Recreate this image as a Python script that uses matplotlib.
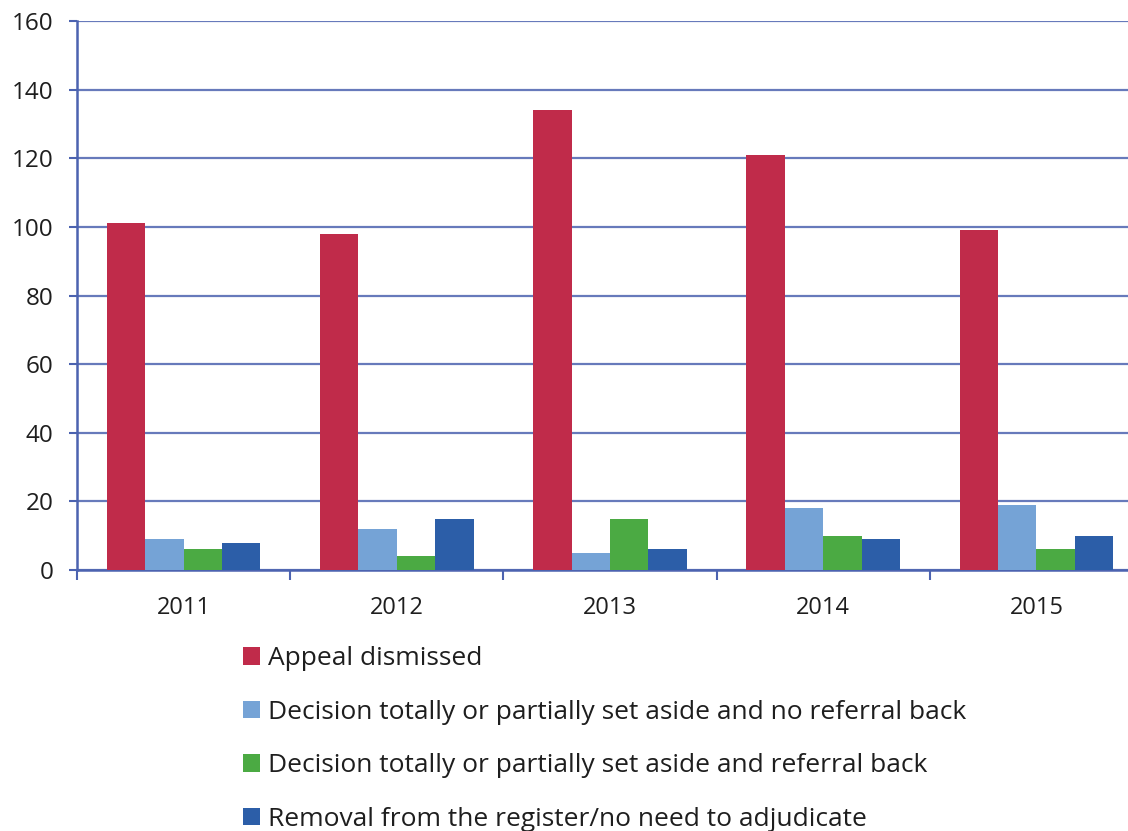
import numpy as np
import matplotlib.pyplot as plt
from matplotlib.patches import Patch

plt.rcParams['font.family'] = ['Open Sans', 'DejaVu Sans']

years = ['2011', '2012', '2013', '2014', '2015']
dismissed = [101, 98, 134, 121, 99]
set_aside_no_referral = [9, 12, 5, 18, 19]
set_aside_referral = [6, 4, 15, 10, 6]
removal = [8, 15, 6, 9, 10]

labels = ['Appeal dismissed',
          'Decision totally or partially set aside and no referral back',
          'Decision totally or partially set aside and referral back',
          'Removal from the register/no need to adjudicate']
colors = ['#C02B4A', '#75A3D6', '#4BAA43', '#2C5EA8']
series = [dismissed, set_aside_no_referral, set_aside_referral, removal]

grid_col = '#4C63B0'
text_col = '#1E1E1E'

fig = plt.figure(figsize=(11.28, 8.31), dpi=100)
ax = fig.add_axes([0.0683, 0.3141, 0.945, 0.6606])

x = np.arange(len(years))
w = 0.18
for i, (vals, c) in enumerate(zip(series, colors)):
    ax.bar(x + (i - 1.5) * w, vals, width=w, color=c, zorder=3)

ax.set_xlim(-0.5, len(years) - 0.5)
ax.set_ylim(0, 160)
ax.set_yticks(np.arange(0, 161, 20))
ax.yaxis.grid(True, color=grid_col, linewidth=1.6, alpha=0.85, zorder=0)

ax.set_xticks(x)
ax.set_xticklabels(years)
ax.set_xticks(np.arange(-0.5, len(years)), minor=True)
ax.tick_params(axis='x', which='major', length=0, pad=19, labelsize=17, labelcolor=text_col)
ax.tick_params(axis='x', which='minor', length=7, width=1.5, color=grid_col)
ax.tick_params(axis='y', length=6, width=1.5, color=grid_col, pad=11, labelsize=17.5, labelcolor=text_col)

for s in ['top', 'right']:
    ax.spines[s].set_visible(False)
for s in ['left', 'bottom']:
    ax.spines[s].set_color(grid_col)
    ax.spines[s].set_linewidth(1.8)

handles = [Patch(facecolor=c, edgecolor='none') for c in colors]
fig.legend(handles, labels, loc='upper left', bbox_to_anchor=(0.1945, 0.251),
           frameon=False, fontsize=19, handlelength=0.65, handleheight=0.65,
           handletextpad=0.3, labelspacing=1.08, labelcolor=text_col)

fig.savefig('out.png', dpi=100)
